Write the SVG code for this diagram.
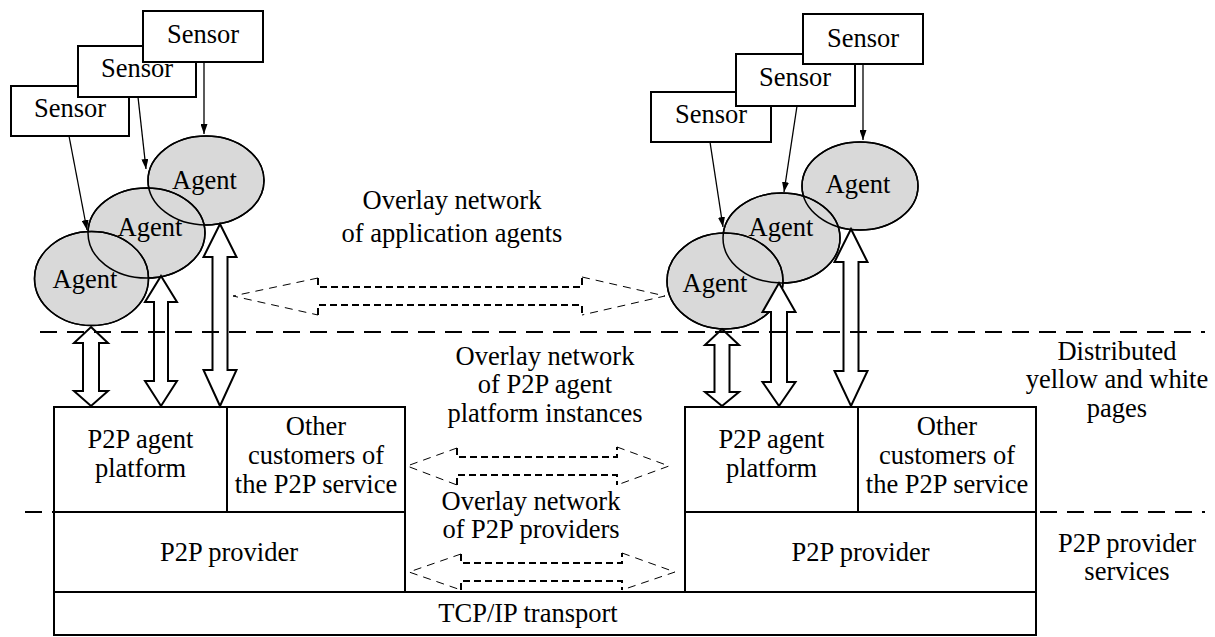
<svg xmlns="http://www.w3.org/2000/svg" xmlns:xlink="http://www.w3.org/1999/xlink" width="1215" height="637" viewBox="0 0 1215 637">
<style>
text{font-family:"Liberation Serif","Times New Roman",serif;font-size:26.5px;fill:#000;text-anchor:middle}
.box{fill:#fff;stroke:#000;stroke-width:2}
.agent{stroke:#000;stroke-width:1.5}
.blk{fill:#fff;stroke:#000;stroke-width:2;stroke-linejoin:miter}
.sl{stroke:#000;stroke-width:1.3;fill:none}
.head{fill:none;stroke:#000;stroke-width:1;stroke-dasharray:8 6}
.shaft{fill:none;stroke:#000;stroke-width:2;stroke-dasharray:7 4}
.sep{stroke:#000;stroke-width:2;stroke-dasharray:17 10;fill:none}
.ln{stroke:#000;stroke-width:2;fill:none}
</style>
<defs>
<marker id="ah" markerUnits="userSpaceOnUse" markerWidth="11" markerHeight="7" refX="10" refY="3.5" orient="auto">
<path d="M0,0 L10,3.5 L0,7 z" fill="#000"/>
</marker>
</defs>
<rect width="1215" height="637" fill="#fff"/>

<!-- Sensors left -->
<g id="sensorL1"><rect class="box" x="11" y="86" width="118" height="50"/><text x="70" y="117">Sensor</text></g>
<g id="sensorL2"><rect class="box" x="78" y="46" width="118" height="51"/><text x="137" y="77">Sensor</text></g>
<g id="sensorL3"><rect class="box" x="143" y="11" width="120" height="51"/><text x="203" y="43">Sensor</text></g>
<!-- Sensors right -->
<g id="sensorR1"><rect class="box" x="651" y="92" width="120" height="50"/><text x="711" y="123">Sensor</text></g>
<g id="sensorR2"><rect class="box" x="736" y="54" width="119" height="52"/><text x="795" y="86">Sensor</text></g>
<g id="sensorR3"><rect class="box" x="803" y="14" width="120" height="50"/><text x="863" y="47">Sensor</text></g>

<!-- Agents -->
<g id="agentL3"><ellipse id="eL3" class="agent" fill="#d9d9d9" cx="206" cy="180.5" rx="58" ry="44.5"/></g>
<g id="agentL2"><ellipse id="eL2" class="agent" fill="#d9d9d9" cx="146.5" cy="233" rx="58.5" ry="45"/></g>
<g id="agentL1"><ellipse id="eL1" class="agent" fill="#d9d9d9" cx="91.5" cy="278.5" rx="57" ry="47"/></g>
<g id="agentR3"><ellipse id="eR3" class="agent" fill="#d9d9d9" cx="860" cy="186" rx="58" ry="44"/></g>
<g id="agentR2"><ellipse id="eR2" class="agent" fill="#d9d9d9" cx="781.5" cy="238" rx="58.5" ry="45"/></g>
<g id="agentR1"><ellipse id="eR1" class="agent" fill="#d9d9d9" cx="725" cy="281" rx="58" ry="48"/></g>
<g id="agent-outlines" fill="none" stroke="#000" stroke-width="1.5">
<ellipse cx="206" cy="180.5" rx="58" ry="44.5"/>
<ellipse cx="146.5" cy="233" rx="58.5" ry="45"/>
<ellipse cx="91.5" cy="278.5" rx="57" ry="47"/>
<ellipse cx="860" cy="186" rx="58" ry="44"/>
<ellipse cx="781.5" cy="238" rx="58.5" ry="45"/>
<ellipse cx="725" cy="281" rx="58" ry="48"/>
</g>
<g id="agent-labels">
<text x="204.5" y="189">Agent</text>
<text x="150" y="236">Agent</text>
<text x="85" y="288">Agent</text>
<text x="858" y="193">Agent</text>
<text x="781" y="236">Agent</text>
<text x="715" y="292">Agent</text>
</g>

<!-- Platform stacks -->
<g id="platformL"><rect class="box" x="54" y="407" width="173" height="105"/>
<text x="140.5" y="448">P2P agent</text><text x="140.5" y="477">platform</text></g>
<g id="othersL"><rect class="box" x="227" y="407" width="178" height="105"/>
<text x="316" y="435">Other</text><text x="316" y="464">customers of</text><text x="316" y="493">the P2P service</text></g>
<g id="providerL"><rect class="box" x="54" y="512" width="351" height="80"/>
<text x="229" y="561">P2P provider</text></g>
<g id="platformR"><rect class="box" x="685" y="407" width="173" height="105"/>
<text x="771.5" y="448">P2P agent</text><text x="771.5" y="477">platform</text></g>
<g id="othersR"><rect class="box" x="858" y="407" width="178" height="105"/>
<text x="947" y="435">Other</text><text x="947" y="464">customers of</text><text x="947" y="493">the P2P service</text></g>
<g id="providerR"><rect class="box" x="685" y="512" width="351" height="80"/>
<text x="860.5" y="561">P2P provider</text></g>
<g id="tcp"><rect class="box" x="54" y="592" width="982" height="43"/>
<text x="528" y="622">TCP/IP transport</text></g>

<!-- Connectors -->
<g id="connectors">
<line class="sl" x1="69" y1="136" x2="87" y2="230" marker-end="url(#ah)"/>
<line class="sl" x1="138" y1="97" x2="146" y2="169" marker-end="url(#ah)"/>
<line class="sl" x1="204" y1="62" x2="204" y2="134" marker-end="url(#ah)"/>
<line class="sl" x1="710" y1="142" x2="723" y2="227" marker-end="url(#ah)"/>
<line class="sl" x1="797" y1="106" x2="784" y2="192" marker-end="url(#ah)"/>
<line class="sl" x1="863" y1="64" x2="863" y2="140" marker-end="url(#ah)"/>

<path class="blk" d="M91,327 L108,343 L99,343 L99,391 L108,391 L91,406 L74,391 L83,391 L83,343 L74,343 Z"/>
<path class="blk" d="M161,276 L177,302 L168,302 L168,381 L177,381 L161,406 L145,381 L154,381 L154,302 L145,302 Z"/>
<path class="blk" d="M220,224 L236.5,257 L227.5,257 L227.5,370 L236.5,370 L220,406 L203.5,370 L212.5,370 L212.5,257 L203.5,257 Z"/>
<path class="blk" d="M722,329 L739,345 L729.5,345 L729.5,392 L739,392 L722,406 L705,392 L714.5,392 L714.5,345 L705,345 Z"/>
<path class="blk" d="M779,283 L795.5,312 L787,312 L787,382 L795.5,382 L779,406 L762.5,382 L771,382 L771,312 L762.5,312 Z"/>
<path class="blk" d="M851,229 L867.5,262 L858.5,262 L858.5,371 L867.5,371 L851,406 L834.5,371 L843.5,371 L843.5,262 L834.5,262 Z"/>

<path class="head" d="M318,278 L233,296 L318,315 M582,277 L665,296 L582,315"/>
<path class="shaft" d="M318,278 L318,287 L582,287 L582,277 M318,315 L318,305 L582,305 L582,315"/>
<path class="head" d="M457,448 L407,466 L457,485 M617,447 L669,466 L617,485"/>
<path class="shaft" d="M457,448 L457,457 L617,457 L617,447 M457,485 L457,475 L617,475 L617,485"/>
<path class="head" d="M461,554 L409,572 L461,590 M622,553 L675,572 L622,590"/>
<path class="shaft" d="M461,554 L461,563 L622,563 L622,553 M461,590 L461,581 L622,581 L622,590"/>
</g>

<!-- Layer separators -->
<g id="separators">
<line class="sep" x1="40" y1="332" x2="1205" y2="332"/>
<line class="sep" x1="25" y1="512" x2="54" y2="512"/>
<line class="sep" x1="1040" y1="512" x2="1205" y2="512"/>
</g>

<!-- Free labels -->
<g id="labels">
<text x="452" y="209">Overlay network</text>
<text x="452" y="242">of application agents</text>
<text x="545" y="365">Overlay network</text>
<text x="545" y="393">of P2P agent</text>
<text x="545" y="422">platform instances</text>
<text x="531" y="510">Overlay network</text>
<text x="531" y="538">of P2P providers</text>
<text x="1117" y="360">Distributed</text>
<text x="1117" y="388">yellow and white</text>
<text x="1117" y="417">pages</text>
<text x="1127" y="552">P2P provider</text>
<text x="1127" y="580">services</text>
</g>
</svg>
